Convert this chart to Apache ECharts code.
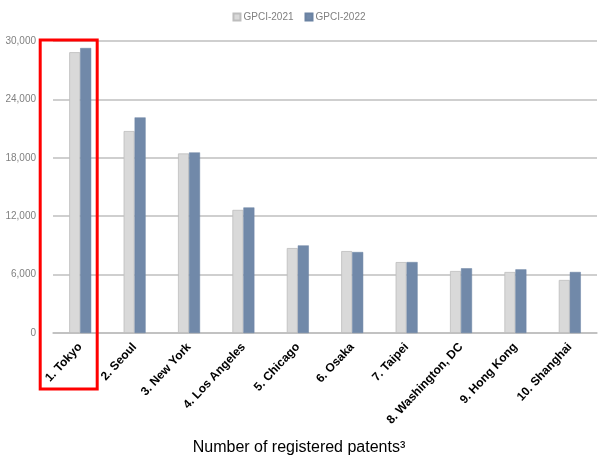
<!DOCTYPE html>
<html><head><meta charset="utf-8">
<script src="https://cdn.jsdelivr.net/npm/echarts@6/dist/echarts.min.js"></script>
<style>html,body{margin:0;padding:0;background:#fff}#c{width:598px;height:463px}</style>
</head><body><div id="c"></div>
<script>
const categories = ['1. Tokyo','2. Seoul','3. New York','4. Los Angeles','5. Chicago','6. Osaka','7. Taipei','8. Washington, DC','9. Hong Kong','10. Shanghai'];
const gpci2021 = [28850, 20750, 18450, 12650, 8730, 8420, 7290, 6370, 6270, 5450];
const gpci2022 = [29280, 22150, 18550, 12900, 9000, 8320, 7290, 6650, 6540, 6270];
const yTicks = {min: 0, max: 30000, interval: 6000};
const seriesNames = ['GPCI-2021', 'GPCI-2022'];

const chart = echarts.init(document.getElementById('c'));
const font = '"Liberation Sans", Arial, sans-serif';
chart.setOption({
  animation: false,
  textStyle: {fontFamily: font},
  title: {
    text: 'Number of registered patents³',
    left: 'center', top: 435,
    textStyle: {fontSize: 16, fontWeight: 'normal', color: '#000', fontFamily: font}
  },
  legend: {
    top: 7, left: 'center',
    itemWidth: 7, itemHeight: 7, itemGap: 11,
    icon: 'rect',
    textStyle: {fontSize: 10, color: '#808080', padding: [0,0,0,-2]},
    data: seriesNames
  },
  grid: {left: 53, right: 1, top: 41, bottom: 130},
  xAxis: {
    type: 'category', data: categories,
    axisTick: {show: false},
    axisLine: {lineStyle: {color: '#bfbfbf', width: 1.5}},
    axisLabel: {rotate: 47, interval: 0, fontSize: 12, fontWeight: 'bold', color: '#000', margin: 12}
  },
  yAxis: {
    type: 'value', min: yTicks.min, max: yTicks.max, interval: yTicks.interval,
    axisLine: {show: false}, axisTick: {show: false},
    splitLine: {lineStyle: {color: '#bfbfbf', width: 1.5}},
    axisLabel: {fontSize: 10, color: '#808080', margin: 17,
      formatter: v => v.toLocaleString('en-US')}
  },
  series: [
    {name: seriesNames[0], type: 'bar', data: gpci2021, barWidth: 11, barGap: '0%',
     itemStyle: {color: '#d9d9d9', borderColor: '#bdbdbd', borderWidth: 0.8}},
    {name: seriesNames[1], type: 'bar', data: gpci2022, barWidth: 11,
     itemStyle: {color: '#7189a9', borderColor: '#6a82a2', borderWidth: 0.5}}
  ]
});
const c0 = chart.convertToPixel({xAxisIndex: 0}, categories[0]);
const yTop = chart.convertToPixel({yAxisIndex: 0}, yTicks.max);
chart.setOption({
  graphic: [{
    type: 'rect', z: 100,
    shape: {x: c0 - 40, y: yTop - 1, width: 57, height: 349},
    style: {fill: 'none', stroke: '#ff0000', lineWidth: 3}
  }]
});
</script></body></html>
